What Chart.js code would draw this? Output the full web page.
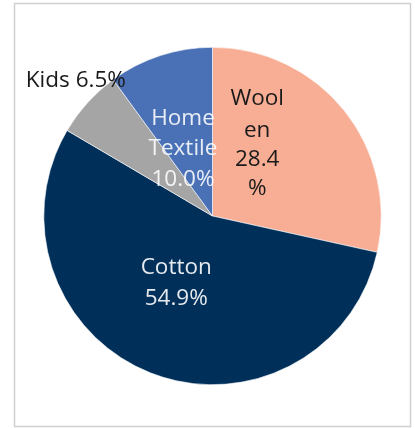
<!DOCTYPE html>
<html><head><meta charset="utf-8">
<script src="https://cdn.jsdelivr.net/npm/chart.js@4/dist/chart.umd.min.js"></script>
<style>html,body{margin:0;padding:0;background:#fff;}#wrap{width:415px;height:428px;position:relative;}</style>
</head><body><div id="wrap"><canvas id="c" width="415" height="428"></canvas></div>
<script>
const categories = ["Woolen", "Cotton", "Kids", "Home Textile"];
const shares = [28.4, 54.9, 6.5, 10.0];
const colors = ["#F7AE95", "#002F5A", "#A5A5A5", "#4A71B6"];
// label lines as shown in the picture (wrapped text)
const labelLines = [["Wool","en","28.4","%"],["Cotton","54.9%"],["Kids 6.5%"],["Home","Textile","10.0%"]];
const labelColors = ["#1a1a1a","rgba(255,255,255,0.9)","#1a1a1a","rgba(255,255,255,0.88)"];
// offsets of first-line baseline from pie centre, in units of radius, and line spacing
const labelAnchor = [[0.265,-0.657],[-0.215,0.343],[-0.81,-0.765],[-0.175,-0.54]];
const lineGap = [[0,32,29,29],[0,31],[0],[0,30,31]];

const frame = {id:'frame', beforeDraw(chart){const c=chart.ctx;c.save();c.strokeStyle='#D0D0D0';c.lineWidth=1.5;c.strokeRect(14.5,3.5,396,423);c.restore();}};
const labels = {id:'labels', afterDatasetsDraw(chart){
  const c=chart.ctx; const meta=chart.getDatasetMeta(0);
  c.save(); c.font='22.5px "Open Sans"'; c.textAlign='center'; c.textBaseline='alphabetic';
  meta.data.forEach((arc,i)=>{
    const r=arc.outerRadius; let x=arc.x+labelAnchor[i][0]*r; let y=arc.y+labelAnchor[i][1]*r;
    c.fillStyle=labelColors[i];
    labelLines[i].forEach((t,j)=>{y+=lineGap[i][j]; c.fillText(t,x,y);});
  });
  c.restore();
}};
new Chart(document.getElementById('c'),{
  type:'pie',
  data:{labels:categories,datasets:[{data:shares,backgroundColor:colors,borderColor:'#ffffff',borderWidth:0.6}]},
  options:{responsive:false,animation:false,
    layout:{padding:{left:43,right:33,top:47,bottom:43}},
    plugins:{legend:{display:false},tooltip:{enabled:false}}},
  plugins:[frame,labels]
});
</script></body></html>
